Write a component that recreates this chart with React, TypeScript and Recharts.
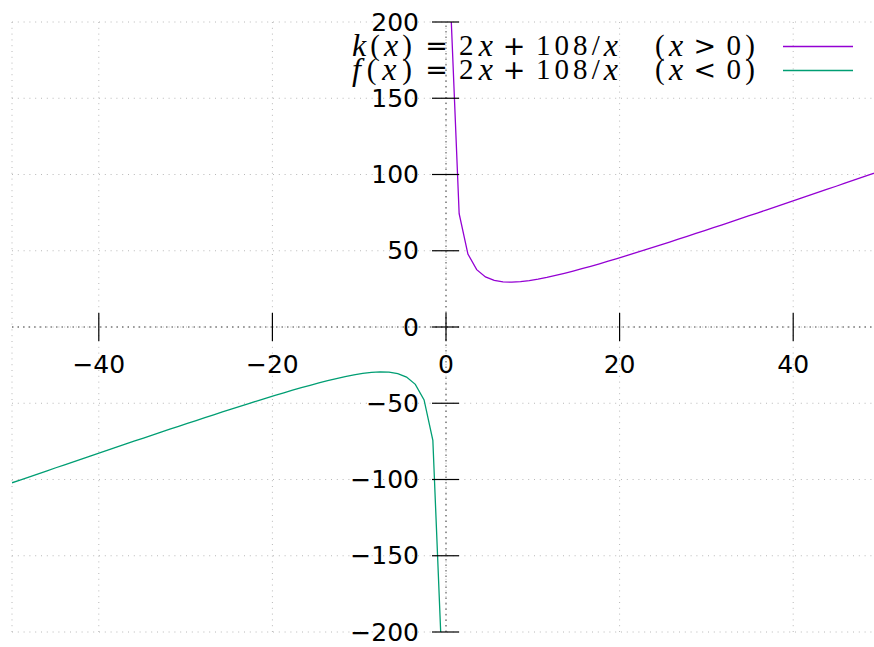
import React from "react";
import { LineChart, Line, XAxis, YAxis, CartesianGrid, ReferenceLine } from "recharts";

// sample points (x > 0 branch and x < 0 branch)
const xPos = [
  0.505, 1.515, 2.525, 3.535, 4.545, 5.556, 6.566, 7.576, 8.586, 9.596,
  10.606, 11.616, 12.626, 13.636, 14.646, 15.657, 16.667, 17.677, 18.687, 19.697,
  20.707, 21.717, 22.727, 23.737, 24.747, 25.758, 26.768, 27.778, 28.788, 29.798,
  30.808, 31.818, 32.828, 33.838, 34.848, 35.859, 36.869, 37.879, 38.889, 39.899,
  40.909, 41.919, 42.929, 43.939, 44.949, 45.96, 46.97, 47.98, 48.99, 50
];
const kValues = [
  214.85, 74.31, 47.82, 37.62, 32.85, 30.55, 29.58, 29.41, 29.75, 30.45,
  31.4, 32.53, 33.81, 35.19, 36.67, 38.21, 39.81, 41.46, 43.15, 44.88,
  46.63, 48.41, 50.21, 52.02, 53.86, 55.71, 57.57, 59.44, 61.33, 63.22,
  65.12, 67.03, 68.95, 70.87, 72.8, 74.73, 76.67, 78.61, 80.56, 82.5,
  84.46, 86.41, 88.37, 90.34, 92.3, 94.27, 96.24, 98.21, 100.18, 102.16
];
const xNeg = [
  -50, -48.99, -47.98, -46.97, -45.96, -44.949, -43.939, -42.929, -41.919, -40.909,
  -39.899, -38.889, -37.879, -36.869, -35.859, -34.848, -33.838, -32.828, -31.818, -30.808,
  -29.798, -28.788, -27.778, -26.768, -25.758, -24.747, -23.737, -22.727, -21.717, -20.707,
  -19.697, -18.687, -17.677, -16.667, -15.657, -14.646, -13.636, -12.626, -11.616, -10.606,
  -9.596, -8.586, -7.576, -6.566, -5.556, -4.545, -3.535, -2.525, -1.515, -0.505
];
const fValues = [
  -102.16, -100.18, -98.21, -96.24, -94.27, -92.3, -90.34, -88.37, -86.41, -84.46,
  -82.5, -80.56, -78.61, -76.67, -74.73, -72.8, -70.87, -68.95, -67.03, -65.12,
  -63.22, -61.33, -59.44, -57.57, -55.71, -53.86, -52.02, -50.21, -48.41, -46.63,
  -44.88, -43.15, -41.46, -39.81, -38.21, -36.67, -35.19, -33.81, -32.53, -31.4,
  -30.45, -29.75, -29.41, -29.58, -30.55, -32.85, -37.62, -47.82, -74.31, -214.85
];

const xTicks = [-40, -20, 0, 20, 40];
const yTicks = [-200, -150, -100, -50, 0, 50, 100, 150, 200];

const series = [
  { key: "k", fn: "k", sign: ">", color: "#9400d3" },
  { key: "f", fn: "f", sign: "<", color: "#009e73" }
];

const data = [
  ...xNeg.map((x, i) => ({ x, f: fValues[i], k: null })),
  ...xPos.map((x, i) => ({ x, k: kValues[i], f: null }))
];

// layout
const W = 890;
const H = 647;
const LEFT = 12;
const TOP = 22;
const PLOT_W = 868;
const PLOT_H = 610;
const ZERO_X = LEFT + PLOT_W / 2;
const ZERO_Y = TOP + PLOT_H / 2;
const FONT = "'DejaVu Sans', sans-serif";
const MATH = "'Liberation Serif', serif";

const fmt = (v: number) => (v < 0 ? "\u2212" + Math.abs(v) : String(v));

function XTick(props: any) {
  const { x, payload } = props;
  return (
    <g>
      <line x1={x} x2={x} y1={ZERO_Y - 14} y2={ZERO_Y + 14} stroke="#000" strokeWidth={1.2} />
      <text x={x} y={ZERO_Y + 37} textAnchor="middle" dominantBaseline="central" fontSize={25} fontFamily={FONT} fill="#000">
        {fmt(payload.value)}
      </text>
    </g>
  );
}

function YTick(props: any) {
  const { y, payload } = props;
  return (
    <g>
      <line x1={ZERO_X - 14} x2={ZERO_X + 13} y1={y} y2={y} stroke="#000" strokeWidth={1.2} />
      <text x={ZERO_X - 27} y={y} textAnchor="end" dominantBaseline="central" fontSize={25} fontFamily={FONT} fill="#000">
        {fmt(payload.value)}
      </text>
    </g>
  );
}

// legend row drawn as TeX-like math text
function LegendRow({ fn, sign, color, y }: { fn: string; sign: string; color: string; y: number }) {
  const it = { fontFamily: MATH, fontStyle: "italic" as const, fontSize: 32 };
  const rm = { fontFamily: MATH, fontSize: 29 };
  const op = { fontFamily: FONT, fontSize: 27 };
  return (
    <g fill="#000">
      <text x={352} y={y} dominantBaseline="central" textLength={60} lengthAdjust="spacing">
        <tspan {...it}>{fn}</tspan>
        <tspan {...rm}>(</tspan>
        <tspan {...it}>x</tspan>
        <tspan {...rm}>)</tspan>
      </text>
      <text x={436.5} y={y} dominantBaseline="central" textAnchor="middle" {...op}>=</text>
      <text x={459} y={y} dominantBaseline="central" textLength={34} lengthAdjust="spacing">
        <tspan {...rm}>2</tspan>
        <tspan {...it}>x</tspan>
      </text>
      <text x={514} y={y} dominantBaseline="central" textAnchor="middle" {...op}>+</text>
      <text x={536} y={y} dominantBaseline="central" textLength={82} lengthAdjust="spacing">
        <tspan {...rm}>108/</tspan>
        <tspan {...it}>x</tspan>
      </text>
      <text x={655} y={y} dominantBaseline="central" textLength={100} lengthAdjust="spacing">
        <tspan {...rm}>(</tspan>
        <tspan {...it}>x</tspan>
        <tspan {...op} dx={6}>{sign}</tspan>
        <tspan {...rm} dx={6}>0)</tspan>
      </text>
      <line x1={783} x2={853} y1={y + 1.5} y2={y + 1.5} stroke={color} strokeWidth={1.5} />
    </g>
  );
}

export default function App() {
  return (
    <div style={{ position: "fixed", left: 0, top: 0, width: 874, height: 647, overflow: "hidden", background: "#fff" }}>
      <LineChart width={W} height={H} data={data} margin={{ top: TOP, right: W - LEFT - PLOT_W, bottom: H - TOP - PLOT_H - 1, left: LEFT - 1 }}>
        <CartesianGrid stroke="#b8b8b8" strokeDasharray="1 4.8" />
        <XAxis
          dataKey="x"
          type="number"
          domain={[-50, 50]}
          ticks={xTicks}
          interval={0}
          height={1}
          axisLine={false}
          tickLine={false}
          tick={(p: any) => <XTick {...p} />}
          allowDataOverflow
        />
        <YAxis
          type="number"
          domain={[-200, 200]}
          ticks={yTicks}
          interval={0}
          width={1}
          axisLine={false}
          tickLine={false}
          tick={(p: any) => <YTick {...p} />}
          allowDataOverflow
        />
        <ReferenceLine y={0} stroke="#444" strokeDasharray="1.5 4" />
        <ReferenceLine x={0} stroke="#444" strokeDasharray="1.5 4" />
        {series.map((s) => (
          <Line key={s.key} dataKey={s.key} stroke={s.color} strokeWidth={1.3} dot={false} isAnimationActive={false} type="linear" />
        ))}
      </LineChart>
      <svg width={874} height={100} style={{ position: "absolute", left: 0, top: 0, pointerEvents: "none" }}>
        {series.map((s, i) => (
          <LegendRow key={s.key} fn={s.fn} sign={s.sign} color={s.color} y={45 + i * 24} />
        ))}
      </svg>
    </div>
  );
}
